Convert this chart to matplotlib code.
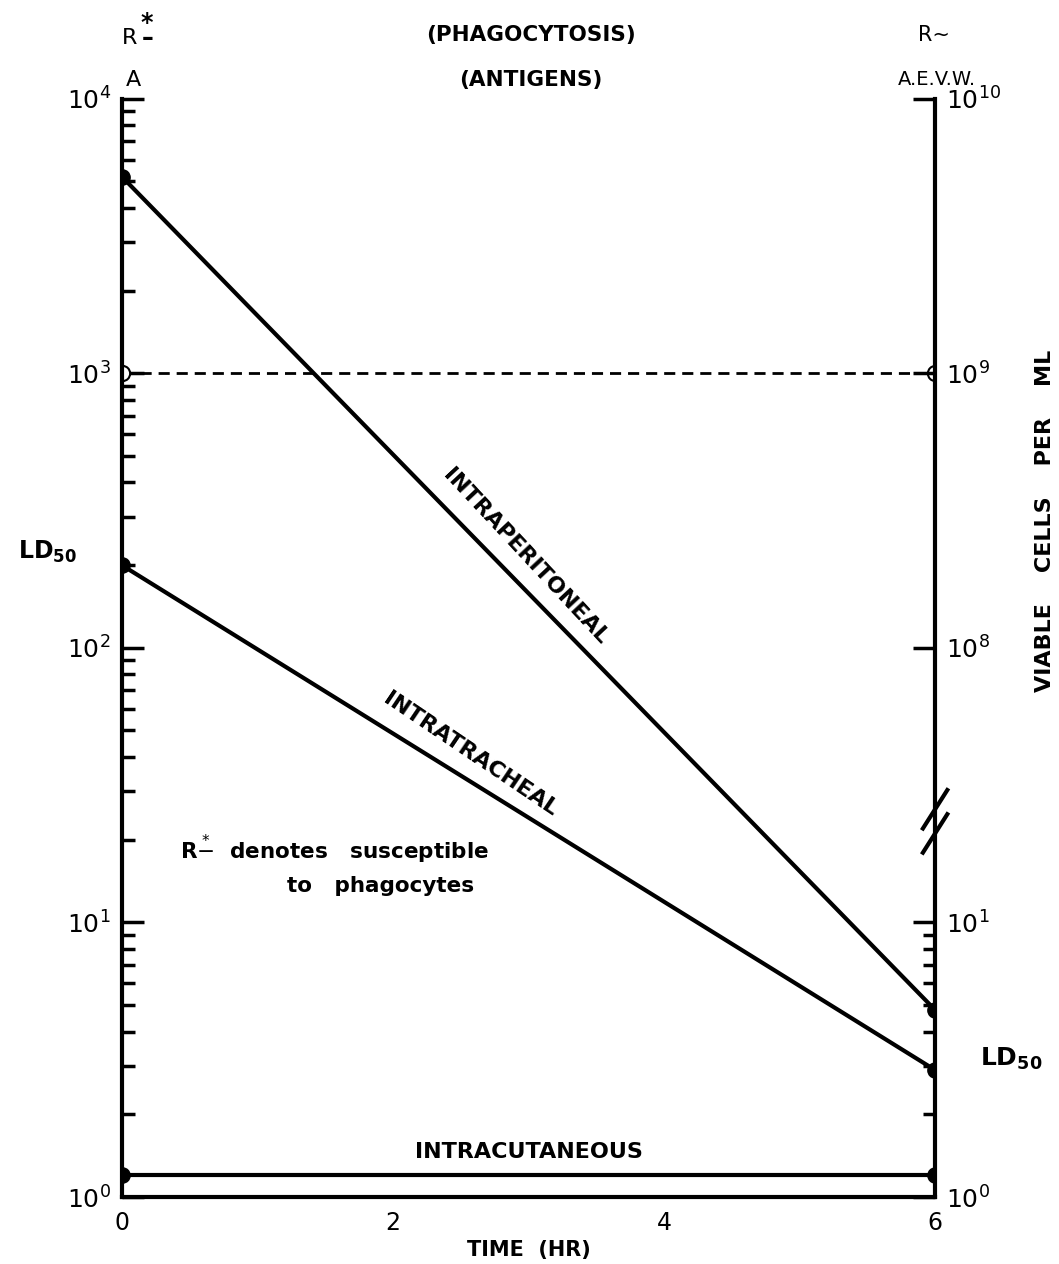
import numpy as np
import matplotlib.pyplot as plt
from matplotlib.ticker import FixedLocator, NullFormatter

plt.rcParams['font.family'] = ['DejaVu Sans']
plt.rcParams['mathtext.fontset'] = 'dejavusans'

# data (left LD50 scale)
time = [0, 6]
intraperitoneal = [5200, 4.8]
intratracheal = [200, 2.9]
intracutaneous = [1.2, 1.2]
phago_level = [1000, 1000]

xticks = [0, 2, 4, 6]
left_ticks = [1, 10, 100, 1000, 10000]
left_labels = ['$10^0$', '$10^1$', '$10^2$', '$10^3$', '$10^4$']
right_labels = ['$10^0$', '$10^1$', '$10^8$', '$10^9$', '$10^{10}$']

fig = plt.figure(figsize=(10.59, 12.64), dpi=100)
ax = fig.add_axes([0.115, 0.053, 0.768, 0.869])

lw = 3
ax.plot(time, intraperitoneal, color='black', lw=lw, marker='o', ms=11)
ax.plot(time, intratracheal, color='black', lw=lw, marker='o', ms=11)
ax.plot(time, intracutaneous, color='black', lw=lw, marker='o', ms=11)
ax.plot(time, phago_level, color='black', lw=2, ls=(0, (4, 2.5)),
        marker='o', ms=11, mfc='white', mew=1.5)

ax.set_yscale('log')
ax.set_xlim(0, 6)
ax.set_ylim(1, 10000)

for s in ['top', 'right']:
    ax.spines[s].set_visible(False)
for s in ['left', 'bottom']:
    ax.spines[s].set_linewidth(3)

ax.set_xticks(xticks)
ax.set_xticklabels([str(t) for t in xticks], fontsize=17)
ax.tick_params(axis='x', length=0, pad=10)
ax.set_yticks(left_ticks)
ax.set_yticklabels(left_labels, fontsize=18)
ax.tick_params(axis='y', which='major', direction='in', length=16, width=2.5, pad=8)
ax.tick_params(axis='y', which='minor', direction='in', length=9, width=2.5)
ax.set_xlabel('TIME  (HR)', fontsize=15, fontweight='bold', labelpad=4)

# right hand scale (viable cells)
ax2 = ax.twinx()
ax2.set_yscale('log')
ax2.set_ylim(1, 10000)
for s in ['top', 'left', 'bottom']:
    ax2.spines[s].set_visible(False)
ax2.spines['right'].set_linewidth(3)
ax2.yaxis.set_major_locator(FixedLocator(left_ticks))
ax2.set_yticklabels(right_labels, fontsize=18)
ax2.yaxis.set_minor_locator(FixedLocator(np.arange(2, 10)))
ax2.yaxis.set_minor_formatter(NullFormatter())
ax2.tick_params(axis='y', which='major', direction='in', length=16, width=2.5, pad=8)
ax2.tick_params(axis='y', which='minor', direction='in', length=9, width=2.5)
ax2.set_ylabel('VIABLE    CELLS    PER    ML', fontsize=16, fontweight='bold',
               rotation=90)
ax2.yaxis.set_label_coords(1.123, 0.616)

# axis break marks
for yb in [0.353, 0.331]:
    ax2.plot([0.985, 1.015], [yb - 0.0175, yb + 0.0175], color='black', lw=3,
             transform=ax2.transAxes, clip_on=False)

# line labels
ax.text(2.98, 215, 'INTRAPERITONEAL', rotation=-47, fontsize=16, fontweight='bold',
        ha='center', va='center')
ax.text(2.57, 41, 'INTRATRACHEAL', rotation=-34, fontsize=16, fontweight='bold',
        ha='center', va='center')
ax.text(3.0, 1.46, 'INTRACUTANEOUS', fontsize=16, fontweight='bold',
        ha='center', va='center')
ax.text(0.43, 18.6, r'R$\overset{*}{-}$  denotes   susceptible', fontsize=15.5,
        fontweight='bold', ha='left', va='center')
ax.text(1.22, 13.6, 'to   phagocytes', fontsize=15.5, fontweight='bold',
        ha='left', va='center')

# labels outside the frame
fig.text(0.045, 0.563, r'LD$_{\mathbf{50}}$', fontsize=17, fontweight='bold',
         ha='center', va='center')
fig.text(0.955, 0.162, r'LD$_{\mathbf{50}}$', fontsize=18, fontweight='bold',
         ha='center', va='center')
fig.text(0.122, 0.970, 'R', fontsize=16, ha='center', va='center')
fig.text(0.139, 0.976, '*\n–', fontsize=17, fontweight='bold', linespacing=0.55,
         ha='center', va='center')
fig.text(0.126, 0.937, 'A', fontsize=16, ha='center', va='center')
fig.text(0.882, 0.972, 'R~', fontsize=15, ha='center', va='center')
fig.text(0.885, 0.937, 'A.E.V.W.', fontsize=14, ha='center', va='center')
fig.text(0.501, 0.972, '(PHAGOCYTOSIS)', fontsize=15.5, fontweight='bold',
         ha='center', va='center')
fig.text(0.501, 0.937, '(ANTIGENS)', fontsize=15.5, fontweight='bold',
         ha='center', va='center')

fig.savefig('out.png', dpi=100)
